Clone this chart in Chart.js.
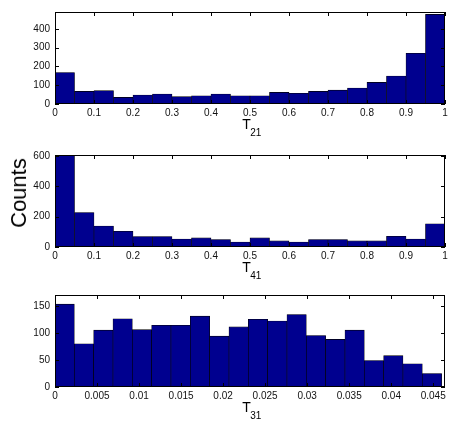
<!DOCTYPE html>
<html>
<head>
<meta charset="utf-8">
<script src="https://cdn.jsdelivr.net/npm/chart.js@4.4.1/dist/chart.umd.min.js"></script>
<style>
  body { margin: 0; background: #fff; }
  #wrap { position: relative; width: 457px; height: 428px; overflow: hidden; }
  #wrap canvas { position: absolute; left: 0; }
  #ylab {
    position: absolute; left: 19px; top: 193px;
    font: 22px "Liberation Sans", Arial, sans-serif; color: #000;
    transform: translate(-50%, -50%) rotate(-90deg);
    white-space: nowrap;
  }
</style>
</head>
<body>
<div id="wrap">
  <canvas id="chart-t21" width="457" height="140" style="top:0px"></canvas>
  <canvas id="chart-t41" width="457" height="140" style="top:143px"></canvas>
  <canvas id="chart-t31" width="457" height="140" style="top:283px"></canvas>
  <div id="ylab">Counts</div>
</div>
<script>
// ========== Data ==========
const unitBinCenters = [0.025, 0.075, 0.125, 0.175, 0.225, 0.275, 0.325, 0.375, 0.425, 0.475,
  0.525, 0.575, 0.625, 0.675, 0.725, 0.775, 0.825, 0.875, 0.925, 0.975];
const t31BinCenters = [0.00115, 0.00345, 0.00575, 0.00805, 0.01035, 0.01265, 0.01495, 0.01725,
  0.01955, 0.02185, 0.02415, 0.02645, 0.02875, 0.03105, 0.03335, 0.03565, 0.03795, 0.04025,
  0.04255, 0.04485];

const t21Counts = [168, 67, 71, 35, 48, 53, 39, 44, 53, 44, 44, 62, 57, 67, 74, 85, 115, 149, 270, 477];
const t41Counts = [604, 227, 138, 104, 69, 69, 53, 60, 49, 33, 60, 40, 33, 49, 49, 40, 40, 71, 53, 153];
const t31Counts = [153, 80, 105, 126, 106, 114, 114, 131, 94, 111, 125, 122, 134, 95, 88, 105, 49, 58, 43, 25];

const unitTicks = [0, 0.1, 0.2, 0.3, 0.4, 0.5, 0.6, 0.7, 0.8, 0.9, 1];
const t31Ticks = [0, 0.005, 0.01, 0.015, 0.02, 0.025, 0.03, 0.035, 0.04, 0.045];
const t21YTicks = [0, 100, 200, 300, 400];
const t41YTicks = [0, 200, 400, 600];
const t31YTicks = [0, 50, 100, 150];

// ========== Helpers ==========
const FONT = '"Liberation Sans", Arial, sans-serif';

// box, inward tick marks and the subscripted axis label, MATLAB style
const matlabAxes = {
  id: "matlabAxes",
  afterDraw: (chart, args, opts) => {
    const { ctx, chartArea: a, scales } = chart;
    const tl = 4;
    ctx.save();
    ctx.strokeStyle = "#000";
    ctx.lineWidth = 1;
    ctx.beginPath();
    scales.x.ticks.forEach((t) => {
      const px = Math.round(scales.x.getPixelForValue(t.value)) + 0.5;
      ctx.moveTo(px, a.top);
      ctx.lineTo(px, a.top + tl);
      ctx.moveTo(px, a.bottom);
      ctx.lineTo(px, a.bottom - tl);
    });
    scales.y.ticks.forEach((t) => {
      const py = Math.round(scales.y.getPixelForValue(t.value)) + 0.5;
      ctx.moveTo(a.left, py);
      ctx.lineTo(a.left + tl, py);
      ctx.moveTo(a.right, py);
      ctx.lineTo(a.right - tl, py);
    });
    ctx.stroke();
    ctx.strokeRect(a.left + 0.5, a.top + 0.5, a.right - a.left - 1, a.bottom - a.top - 1);

    // axis label "T" with subscript
    ctx.fillStyle = "#000";
    ctx.textAlign = "left";
    ctx.textBaseline = "alphabetic";
    ctx.font = "14px " + FONT;
    const wT = ctx.measureText("T").width;
    ctx.font = "10px " + FONT;
    const wS = ctx.measureText(opts.sub).width;
    const cx = (a.left + a.right) / 2 + 2;
    const x0 = cx - (wT + wS) / 2;
    ctx.font = "14px " + FONT;
    ctx.fillText("T", x0, a.bottom + 25);
    ctx.font = "10px " + FONT;
    ctx.fillText(opts.sub, x0 + wT - 0.5, a.bottom + 32);
    ctx.restore();
  },
};

function makeHist(id, centers, counts, xMax, xTicks, yMax, yTicks, sub) {
  const el = document.getElementById(id);
  if (!el) {
    return;
  }
  return new Chart(el.getContext("2d"), {
    type: "bar",
    data: {
      datasets: [
        {
          data: centers.map((c, i) => ({ x: c, y: counts[i] })),
          backgroundColor: "#00008f",
          borderColor: "#000",
          borderWidth: 0.6,
          borderSkipped: false,
          barPercentage: 1,
          categoryPercentage: 1,
        },
      ],
    },
    options: {
      responsive: false,
      animation: false,
      events: [],
      layout: { padding: { top: 12, right: 12, left: 0, bottom: 0 } },
      plugins: {
        legend: { display: false },
        tooltip: { enabled: false },
        matlabAxes: { sub: sub },
      },
      scales: {
        x: {
          type: "linear",
          offset: false,
          min: 0,
          max: xMax,
          afterBuildTicks: (s) => { s.ticks = xTicks.map((v) => ({ value: v })); },
          afterFit: (s) => { s.height = 140 - 12 - 92; },
          grid: { display: false, drawTicks: false },
          border: { display: false },
          ticks: {
            color: "#111",
            font: { family: FONT, size: 10 },
            padding: 3,
            maxRotation: 0,
            autoSkip: false,
            callback: (v) => String(v),
          },
        },
        y: {
          min: 0,
          max: yMax,
          afterBuildTicks: (s) => { s.ticks = yTicks.map((v) => ({ value: v })); },
          afterFit: (s) => { s.width = 55; },
          grid: { display: false, drawTicks: false },
          border: { display: false },
          ticks: {
            color: "#111",
            font: { family: FONT, size: 10 },
            padding: 5,
            callback: (v) => String(v),
          },
        },
      },
    },
    plugins: [matlabAxes],
  });
}

makeHist("chart-t21", unitBinCenters, t21Counts, 1, unitTicks, 490, t21YTicks, "21");
makeHist("chart-t41", unitBinCenters, t41Counts, 1, unitTicks, 607, t41YTicks, "41");
makeHist("chart-t31", t31BinCenters, t31Counts, 0.0464, t31Ticks, 170, t31YTicks, "31");
</script>
</body>
</html>
